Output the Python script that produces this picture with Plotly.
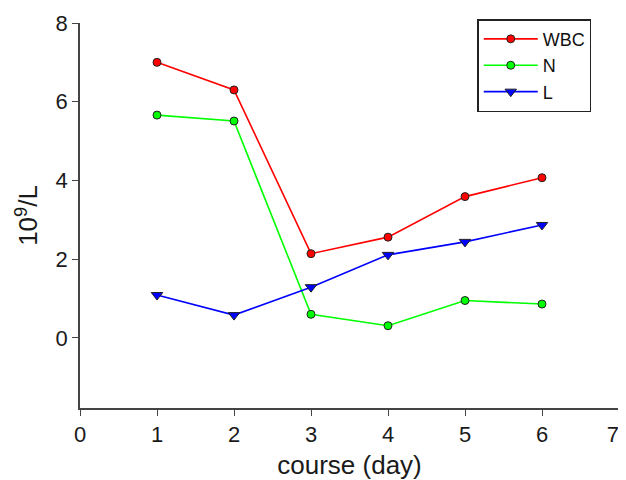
import plotly.graph_objects as go

days = [1, 2, 3, 4, 5, 6]
wbc = [7.0, 6.3, 2.14, 2.56, 3.59, 4.07]
neut = [5.66, 5.51, 0.6, 0.31, 0.95, 0.86]
lymph = [1.09, 0.58, 1.29, 2.11, 2.44, 2.87]
x_ticks = [0, 1, 2, 3, 4, 5, 6, 7]
x_labels = ["0", "1", "2", "3", "4", "5", "6", "7\u00a0\u00a0"]
y_ticks = [0, 2, 4, 6, 8]

font = "Liberation Sans, Arial, sans-serif"

fig = go.Figure()
fig.add_trace(go.Scatter(x=days, y=wbc, name="WBC", mode="lines+markers",
                         line=dict(color="#ff0000", width=1.6),
                         marker=dict(symbol="circle", size=8, color="#ff0000",
                                     line=dict(color="#222222", width=1))))
fig.add_trace(go.Scatter(x=days, y=neut, name="N", mode="lines+markers",
                         line=dict(color="#00ff00", width=1.6),
                         marker=dict(symbol="circle", size=8, color="#00ff00",
                                     line=dict(color="#222222", width=1))))
fig.add_trace(go.Scatter(x=days, y=lymph, name="L", mode="lines+markers",
                         line=dict(color="#0000ff", width=1.6),
                         marker=dict(symbol="triangle-down", size=10, color="#0000ff",
                                     line=dict(color="#222222", width=1))))

fig.update_layout(
    width=618, height=472,
    margin=dict(l=72, r=7, t=15, b=72, autoexpand=False),
    paper_bgcolor="white", plot_bgcolor="white",
    font=dict(family=font, size=22, color="#1a1a1a"),
    showlegend=True,
    legend=dict(x=0.737, y=1.01, xanchor="left", yanchor="top",
                bordercolor="#222222", borderwidth=1.5,
                font=dict(size=18, family=font, color="#111111"),
                bgcolor="white", tracegroupgap=0, itemwidth=54,
                entrywidth=110, entrywidthmode="pixels"),
    xaxis=dict(range=[0, 7], tickvals=x_ticks, ticktext=x_labels,
               showgrid=False, zeroline=False,
               showline=True, linecolor="#444444", linewidth=1.5,
               ticks="outside", ticklen=6, tickcolor="#444444", automargin=False,
               ticklabeloverflow="allow",
               title=dict(text="course (day)", font=dict(size=26), standoff=10),
               tickfont=dict(size=22)),
    yaxis=dict(range=[-1.78, 8], tickvals=y_ticks, showgrid=False, zeroline=False,
               showline=True, linecolor="#444444", linewidth=1.5,
               ticks="outside", ticklen=6, tickcolor="#444444", automargin=False,
               title=dict(text="10<sup>9</sup>/L", font=dict(size=26), standoff=10),
               tickfont=dict(size=22)),
)

fig.write_html("out.html")
